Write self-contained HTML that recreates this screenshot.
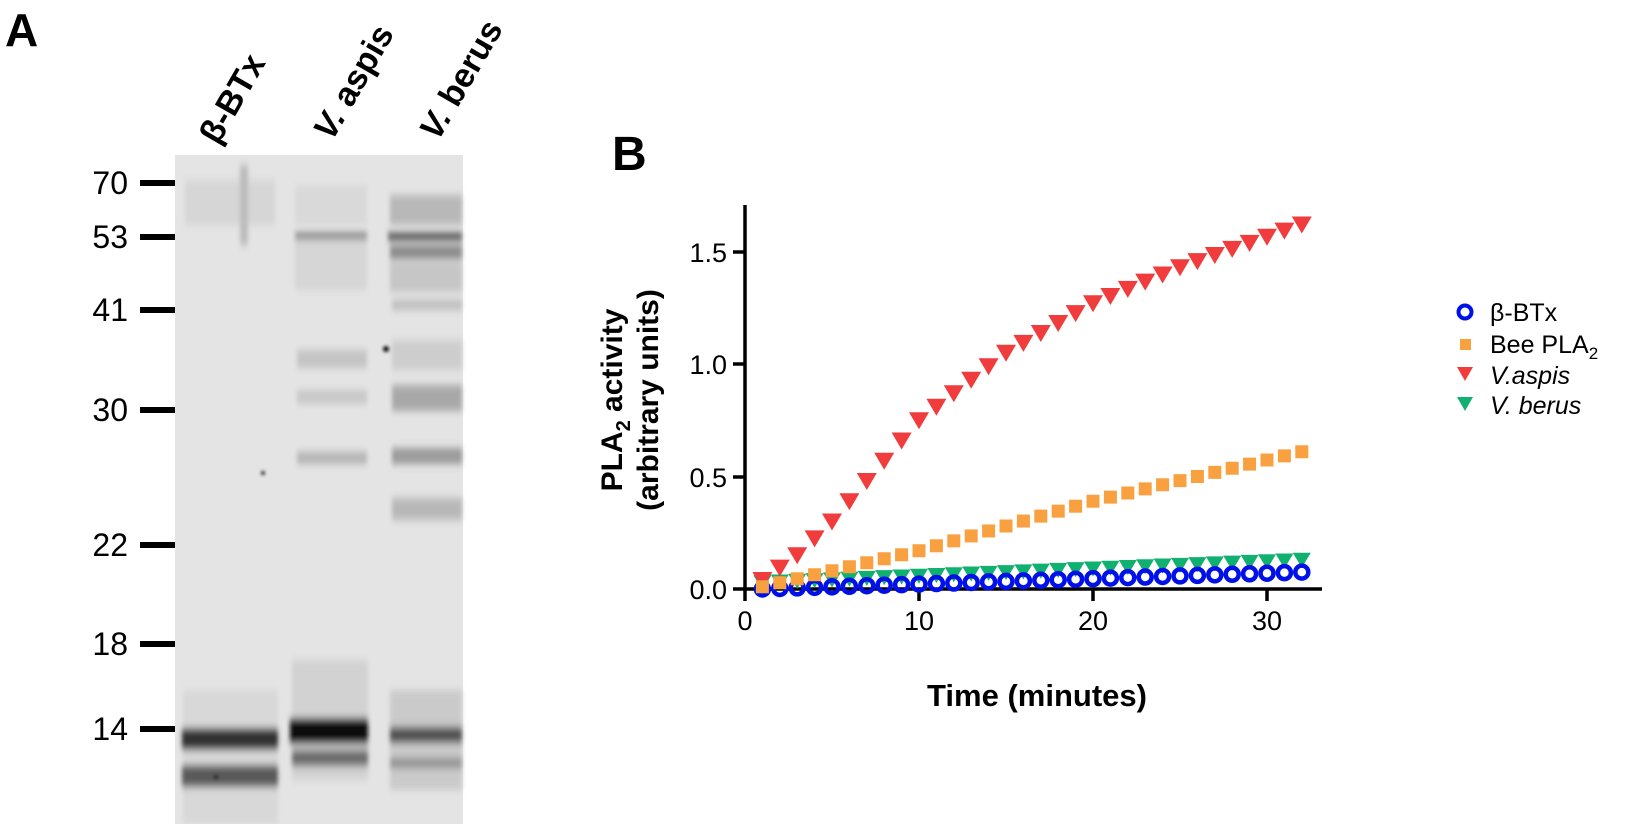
<!DOCTYPE html>
<html><head><meta charset="utf-8"><style>
html,body{margin:0;padding:0;background:#fff;}
svg{display:block;font-family:"Liberation Sans",Arial,sans-serif;}
</style></head><body>
<svg width="1650" height="824" viewBox="0 0 1650 824" xmlns="http://www.w3.org/2000/svg">
<defs>
<filter id="b1" x="-20%" y="-200%" width="140%" height="500%"><feGaussianBlur stdDeviation="2 4"/></filter>
<filter id="b2" x="-20%" y="-200%" width="140%" height="500%"><feGaussianBlur stdDeviation="1.5 1.5"/></filter>
</defs>
<text x="5" y="46" font-size="46" font-weight="bold">A</text>
<text x="612" y="170" font-size="48" font-weight="bold">B</text>
<!-- gel -->
<rect x="175" y="155" width="288" height="669" fill="#e4e4e4"/>
<g filter="url(#b1)">
<rect x="185" y="180" width="90" height="45" fill="#d6d6d6"/>
<rect x="240" y="165" width="8" height="80" fill="#bcbcbc"/>
<rect x="183" y="690" width="95" height="134" fill="#d8d8d8"/>
<rect x="182" y="728" width="96" height="22" fill="#303030"/>
<rect x="182" y="765" width="96" height="22" fill="#5a5a5a"/>
<rect x="295" y="185" width="72" height="40" fill="#d9d9d9"/>
<rect x="295" y="233" width="72" height="6" fill="#707070"/>
<rect x="295" y="240" width="72" height="50" fill="#d6d6d6"/>
<rect x="297" y="350" width="70" height="18" fill="#c4c4c4"/>
<rect x="297" y="390" width="70" height="14" fill="#c8c8c8"/>
<rect x="297" y="452" width="70" height="12" fill="#b4b4b4"/>
<rect x="292" y="660" width="76" height="120" fill="#d2d2d2"/>
<rect x="290" y="718" width="78" height="26" fill="#0a0a0a"/>
<rect x="292" y="750" width="76" height="16" fill="#6a6a6a"/>
<rect x="390" y="195" width="72" height="30" fill="#b8b8b8"/>
<rect x="388" y="233" width="74" height="7" fill="#404040"/>
<rect x="390" y="245" width="72" height="14" fill="#8a8a8a"/>
<rect x="390" y="262" width="72" height="30" fill="#c6c6c6"/>
<rect x="392" y="300" width="70" height="10" fill="#bdbdbd"/>
<rect x="392" y="340" width="70" height="30" fill="#cdcdcd"/>
<rect x="392" y="385" width="70" height="26" fill="#a8a8a8"/>
<rect x="392" y="448" width="70" height="16" fill="#9a9a9a"/>
<rect x="392" y="498" width="70" height="22" fill="#b8b8b8"/>
<rect x="390" y="690" width="72" height="100" fill="#cacaca"/>
<rect x="390" y="727" width="72" height="16" fill="#505050"/>
<rect x="390" y="758" width="72" height="10" fill="#909090"/>
</g>
<g filter="url(#b2)"><circle cx="386" cy="349" r="3" fill="#111"/><circle cx="263" cy="473" r="2" fill="#222"/><circle cx="216" cy="777" r="2" fill="#222"/></g>
<!-- markers -->
<g stroke="#000" stroke-width="6">
<line x1="140" y1="183" x2="175" y2="183"/><line x1="140" y1="237" x2="175" y2="237"/>
<line x1="140" y1="310" x2="175" y2="310"/><line x1="140" y1="410" x2="175" y2="410"/>
<line x1="140" y1="545" x2="175" y2="545"/><line x1="140" y1="644" x2="175" y2="644"/>
<line x1="140" y1="729" x2="175" y2="729"/>
</g>
<g font-size="32" text-anchor="end">
<text x="128" y="194">70</text><text x="128" y="248">53</text><text x="128" y="321">41</text>
<text x="128" y="421">30</text><text x="128" y="556">22</text><text x="128" y="655">18</text><text x="128" y="740">14</text>
</g>
<g font-size="34" font-weight="bold">
<text transform="translate(218,146) rotate(-60)">β-BTx</text>
<text transform="translate(332,142) rotate(-60)"><tspan font-style="italic">V.</tspan> aspis</text>
<text transform="translate(438,142) rotate(-60)"><tspan font-style="italic">V.</tspan> berus</text>
</g>
<!-- chart B axes -->
<g stroke="#000" stroke-width="3.5" fill="none">
<line x1="745" y1="205" x2="745" y2="591"/>
<line x1="743" y1="589" x2="1322" y2="589"/>
<line x1="733" y1="589" x2="745" y2="589"/><line x1="733" y1="477" x2="745" y2="477"/>
<line x1="733" y1="364" x2="745" y2="364"/><line x1="733" y1="252" x2="745" y2="252"/>
<line x1="745" y1="589" x2="745" y2="601"/><line x1="919" y1="589" x2="919" y2="601"/>
<line x1="1093" y1="589" x2="1093" y2="601"/><line x1="1267" y1="589" x2="1267" y2="601"/>
</g>
<g font-size="27" text-anchor="end">
<text x="727" y="599">0.0</text><text x="727" y="487">0.5</text><text x="727" y="374">1.0</text><text x="727" y="262">1.5</text>
</g>
<g font-size="27" text-anchor="middle">
<text x="745" y="630">0</text><text x="919" y="630">10</text><text x="1093" y="630">20</text><text x="1267" y="630">30</text>
</g>
<text x="1037" y="706" font-size="31" font-weight="bold" text-anchor="middle">Time (minutes)</text>
<g font-size="30" font-weight="bold" text-anchor="middle">
<text transform="translate(622,400) rotate(-90)">PLA<tspan font-size="20" dy="8">2</tspan><tspan dy="-8"> activity</tspan></text>
<text transform="translate(658,400) rotate(-90)">(arbitrary units)</text>
</g>
<g id="data"></g>
<!-- legend -->
<circle cx="1465" cy="312" r="6.5" fill="none" stroke="#0010e8" stroke-width="4"/>
<rect x="1460" y="339" width="11" height="11" fill="#f9a040"/>
<polygon points="1457,367 1473,367 1465,381" fill="#f03c3c"/>
<polygon points="1457,397 1473,397 1465,411" fill="#10b070"/>
<g font-size="25">
<text x="1490" y="321">β-BTx</text>
<text x="1490" y="353">Bee PLA<tspan font-size="17" dy="6">2</tspan></text>
<text x="1490" y="384" font-style="italic">V.aspis</text>
<text x="1490" y="414" font-style="italic">V. berus</text>
</g>
</svg>
<script>
(function(){
var g=document.getElementById('data'),out='';
function interp(k,t){for(var i=0;i<k.length-1;i++){if(t<=k[i+1][0]){var f=(t-k[i][0])/(k[i+1][0]-k[i][0]);return k[i][1]+f*(k[i+1][1]-k[i][1]);}}return k[k.length-1][1];}
function X(t){return 745+t*17.4;} function Y(v){return 589-v*225;}
var red=[[1,.04],[3,.15],[5,.30],[10,.75],[15,1.05],[20,1.27],[25,1.43],[32,1.62]];
var org=[[1,.01],[10,.17],[20,.39],[32,.61]];
var grn=[[1,.03],[32,.13]];
var blu=[[1,.0],[32,.075]];
for(var t=1;t<=32;t++){var x=X(t),y=Y(interp(grn,t));out+='<polygon points="'+(x-9)+','+(y-7)+' '+(x+9)+','+(y-7)+' '+x+','+(y+8)+'" fill="#10b070"/>';}
for(var t=1;t<=32;t++){var x=X(t),y=Y(interp(red,t));out+='<polygon points="'+(x-10)+','+(y-8)+' '+(x+10)+','+(y-8)+' '+x+','+(y+9)+'" fill="#f03c3c"/>';}
for(var t=1;t<=32;t++){var x=X(t),y=Y(interp(blu,t));out+='<circle cx="'+x+'" cy="'+y+'" r="6.5" fill="none" stroke="#0010e8" stroke-width="4.5"/>';}
for(var t=1;t<=32;t++){var x=X(t),y=Y(interp(org,t));out+='<rect x="'+(x-6.5)+'" y="'+(y-6.5)+'" width="13" height="13" fill="#f9a040"/>';}
g.innerHTML=out;
})();
</script>
</body></html>
